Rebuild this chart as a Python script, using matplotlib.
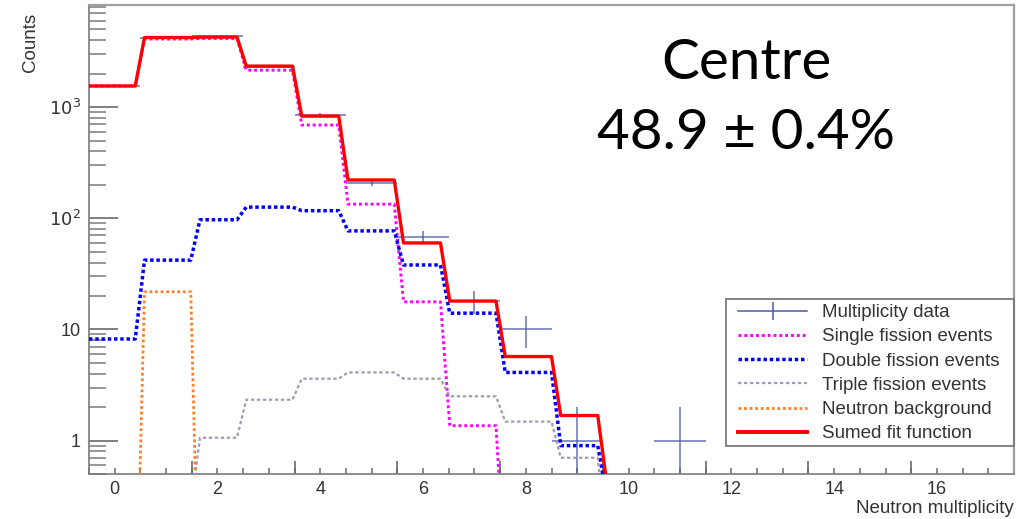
import numpy as np
import matplotlib
matplotlib.use("Agg")
import matplotlib.pyplot as plt
from matplotlib.lines import Line2D
from matplotlib.patches import Rectangle

plt.rcParams['font.family'] = ['Liberation Sans', 'DejaVu Sans']

# bin contents per neutron multiplicity 0..17 (values < 0.5 sit below the axis)
multiplicity = np.arange(0, 18)
summed_fit = [1550, 4230, 4270, 2340, 830, 221, 60, 18, 5.7, 1.68,
              0.4, 0.01, 0.01, 0.01, 0.01, 0.01, 0.01, 0.01]
single_fission = [1550, 4100, 4150, 2150, 690, 134, 17.7, 1.36, 0.05, 0.01,
                  0.01, 0.01, 0.01, 0.01, 0.01, 0.01, 0.01, 0.01]
double_fission = [8.2, 42, 97, 126, 117, 77, 38, 14, 4.1, 0.9,
                  0.3, 0.01, 0.01, 0.01, 0.01, 0.01, 0.01, 0.01]
triple_fission = [0.01, 0.25, 1.06, 2.33, 3.6, 4.1, 3.6, 2.5, 1.48, 0.7,
                  0.1, 0.01, 0.01, 0.01, 0.01, 0.01, 0.01, 0.01]
neutron_bg = [0.01, 21.8, 0.01, 0.01, 0.01, 0.01, 0.01, 0.01, 0.01, 0.01,
              0.01, 0.01, 0.01, 0.01, 0.01, 0.01, 0.01, 0.01]

data_x = [0, 1, 2, 3, 4, 5, 6, 7, 8, 9, 11]
data_counts = [1560, 4200, 4350, 2300, 850, 208, 68, 18, 10, 1, 1]

x_labels = ['0', '2', '4', '6', '8', '10', '12', '14', '16']

W, H = 1036, 519
fig = plt.figure(figsize=(W/100, H/100), dpi=100)
ax = fig.add_axes([89/W, 1-474/H, (1014-89)/W, (474-5)/H])
ax.set_yscale('log')
ax.set_xlim(-0.5, 17.5)
ax.set_ylim(0.5, 8300)

# fit functions sampled like a ROOT TF1 (npx = 100)
xs = np.linspace(-0.5, 17.5, 101)
idx = np.clip(np.round(xs), 0, 17).astype(int)


def sampled(vals):
    return np.asarray(vals, dtype=float)[idx]


# data points with error bars
dy = np.sqrt(np.array(data_counts, dtype=float))
dy_low = np.minimum(dy, np.array(data_counts) * 0.999)
ax.errorbar(data_x, data_counts, xerr=0.5, yerr=[dy_low, dy], fmt='none',
            ecolor='#4a5aa8', elinewidth=1.1, alpha=0.85, zorder=2)

styles = {
    'single': dict(color='#ff00ff', lw=2.1, ls=(0, (1, 1))),
    'double': dict(color='#0000ff', lw=2.5, ls=(0, (1, 0.8))),
    'triple': dict(color='#9c9cb4', lw=1.6, ls=(0, (1.5, 1.2))),
    'bg': dict(color='#ff7f27', lw=2.0, ls=(0, (1, 1))),
    'sum': dict(color='#ff0000', lw=2.4),
}
ax.plot(xs, sampled(single_fission), zorder=3, **styles['single'])
ax.plot(xs, sampled(double_fission), zorder=3, **styles['double'])
ax.plot(xs, sampled(triple_fission), zorder=3, **styles['triple'])
ax.plot(xs, sampled(neutron_bg), zorder=3, **styles['bg'])
ax.plot(xs, sampled(summed_fit), zorder=4, **styles['sum'])

# axes styling (ROOT look)
for side in ['top', 'right']:
    ax.spines[side].set_color('#a0a0a0')
    ax.spines[side].set_linewidth(1.6)
for side in ['left', 'bottom']:
    ax.spines[side].set_color('#7a7a7a')
    ax.spines[side].set_linewidth(1.2)

ax.set_yticks([1, 10, 100, 1000], ['1', '10', '$10^2$', '$10^3$'])
ax.yaxis.set_minor_locator(matplotlib.ticker.LogLocator(base=10, subs=np.arange(2, 10)))
ax.yaxis.set_minor_formatter(matplotlib.ticker.NullFormatter())
ax.tick_params(axis='y', which='major', direction='in', length=21, width=1.2,
               color='#6a6a6a', labelsize=13, pad=6, labelcolor='#333333')
ax.tick_params(axis='y', which='minor', direction='in', length=12, width=1.1,
               color='#7a7a7a')

ax.set_xticks(np.arange(0, 17, 2), x_labels)
ax.set_xticks(np.arange(-0.5, 17.5, 0.5), minor=True)
ax.tick_params(axis='x', which='both', direction='in', length=4.5, width=1.1,
               color='#6a6a6a', labelsize=13, pad=5, labelcolor='#333333')
sec = ax.secondary_xaxis('bottom')
sec.set_xticks(np.arange(1.5, 17, 2), [''] * 8)
sec.tick_params(direction='in', length=9.5, width=1.2, color='#6a6a6a')
sec.spines['bottom'].set_visible(False)

fig.text(30/W, 1-13/H, 'Counts', rotation=90, ha='center', va='top',
         fontsize=13.5, color='#333333')
fig.text(1014/W, 1-517/H, 'Neutron multiplicity', ha='right', va='bottom',
         fontsize=13.5, color='#333333')

# legend: ROOT-style box drawn separately
fig.patches.append(Rectangle((726/W, 1-446/H), (1014-726)/W, (446-299)/H,
                             transform=fig.transFigure, fill=False,
                             edgecolor='#7a7a7a', lw=1.3, zorder=5))
handles = [
    Line2D([], [], color='#4a5aa8', lw=1.1, marker='|', markersize=13, markeredgewidth=1.1),
    Line2D([], [], **styles['single']),
    Line2D([], [], **styles['double']),
    Line2D([], [], **styles['triple']),
    Line2D([], [], **styles['bg']),
    Line2D([], [], color='#ff0000', lw=2.8),
]
labels = ['Multiplicity data', 'Single fission events', 'Double fission events',
          'Triple fission events', 'Neutron background', 'Sumed fit function']
leg = ax.legend(handles, labels, loc='upper left',
                bbox_to_anchor=(738/W, 1-304/H), bbox_transform=fig.transFigure,
                borderaxespad=0, borderpad=0, frameon=False,
                fontsize=13.5, handlelength=3.68, handletextpad=0.8, labelspacing=0.38,
                numpoints=1)
for t in leg.get_texts():
    t.set_color('#333333')

fig.text(746/W, 1-79/H, 'Centre', ha='center', va='baseline',
         fontsize=40.8, family=['Lato', 'DejaVu Sans'])
fig.text(746/W, 1-149/H, '48.9 ± 0.4%', ha='center', va='baseline',
         fontsize=40.8, family=['Lato', 'DejaVu Sans'])

fig.savefig('out.png', dpi=100)
